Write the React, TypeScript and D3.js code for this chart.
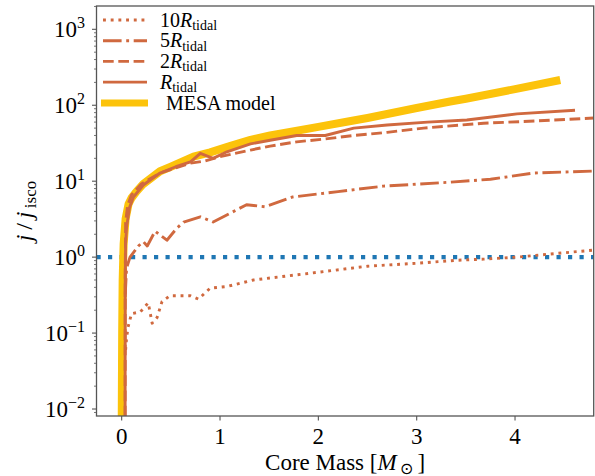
import * as d3 from 'd3';

// core mass (M_sun) and j/j_isco for each run
const tenMass = [0.04, 0.05, 0.065, 0.1, 0.19, 0.27, 0.31, 0.36, 0.41, 0.49, 0.7, 0.78, 0.9, 1.07, 1.34, 1.99, 2.5, 3.0, 3.41, 3.68, 4.02, 4.36, 4.81];
const tenJ = [0.06, 0.086, 0.12, 0.18, 0.19, 0.25, 0.135, 0.16, 0.26, 0.31, 0.31, 0.28, 0.39, 0.41, 0.5, 0.63, 0.76, 0.83, 0.91, 0.94, 1.0, 1.1, 1.24];

const fiveMass = [0.035, 0.05, 0.085, 0.17, 0.22, 0.26, 0.34, 0.46, 0.56, 0.63, 0.8, 0.93, 1.27, 1.46, 1.74, 2.2, 2.66, 3.34, 3.75, 4.19, 4.81];
const fiveJ = [0.3, 0.72, 1.0, 1.4, 1.6, 1.4, 2.2, 1.67, 2.4, 2.9, 3.4, 2.9, 4.9, 4.6, 6.2, 7.3, 8.6, 9.7, 10.6, 12.8, 13.6];

const twoMass = [0.035, 0.036, 0.04, 0.06, 0.1, 0.2, 0.39, 0.55, 0.7, 0.85, 1.0, 1.31, 1.51, 1.78, 2.07, 2.36, 2.7, 3.07, 3.68, 4.2, 4.81];
const twoJ = [0.005, 0.5, 2.8, 4.8, 6.6, 9.2, 12.8, 15, 17.3, 18.5, 21, 25.7, 29, 33, 36, 40, 44, 50, 58, 62, 68];

const oneMass = [0.035, 0.036, 0.04, 0.05, 0.08, 0.12, 0.22, 0.39, 0.55, 0.7, 0.8, 0.93, 1.07, 1.31, 1.51, 1.78, 2.07, 2.36, 2.7, 3.11, 3.51, 4.02, 4.61];
const oneJ = [0.005, 0.5, 1.5, 2.5, 4.5, 6.2, 8.9, 12.8, 15.5, 18, 23.3, 20, 24.4, 31, 34.6, 40, 40, 50, 55, 60, 64, 77, 86];

const mesaMass = [0.0, 0.005, 0.01, 0.02, 0.04, 0.07, 0.1, 0.15, 0.22, 0.3, 0.39, 0.5, 0.73, 0.9, 1.1, 1.31, 1.51, 2.0, 2.33, 2.5, 3.0, 3.34, 3.5, 4.0, 4.46];
const mesaJ = [0.005, 0.1, 0.5, 1.5, 3.2, 5, 6, 7.3, 9.2, 11, 13.5, 15.5, 21, 24, 29, 35, 40, 52, 62, 68, 92, 112, 122, 163, 215];

const xTicks = [0, 1, 2, 3, 4];
const yExps = [-2, -1, 0, 1, 2, 3];

const brown = '#d0693f';
const gold = '#fcc30b';
const blue = '#1f77b4';
const serif = '"Liberation Serif", "Times New Roman", serif';

const left = 96.5;
const right = 593.7;
const top = 6;
const bottom = 416;

export default function App() {
  const x = d3.scaleLinear().domain([-0.256, 4.8]).range([left, right]);
  const y = d3.scaleLog().domain([Math.pow(10, -2.092), Math.pow(10, 3.307)]).range([bottom, top]);

  const path = (xs: number[], ys: number[]) =>
    d3.line<number>().x((d, i) => x(xs[i])).y(d => y(d))(ys) || '';

  const minor: number[] = [];
  for (let e = -3; e <= 3; e++) {
    for (let k = 2; k <= 9; k++) {
      const v = k * Math.pow(10, e);
      if (y(v) <= bottom && y(v) >= top) minor.push(v);
    }
  }

  const series = [
    { label: '10', d: path(tenMass, tenJ), dash: '2.9 4.8' },
    { label: '5', d: path(fiveMass, fiveJ), dash: '18.6 4.6 2.9 4.6' },
    { label: '2', d: path(twoMass, twoJ), dash: '10.7 4.6' },
    { label: '', d: path(oneMass, oneJ), dash: '' },
  ];

  return (
    <svg width={595} height={476} style={{ position: 'absolute', left: 0, top: 0, background: '#fff' }} fontFamily={serif}>
      <defs>
        <clipPath id="plot">
          <rect x={left} y={top} width={right - left} height={bottom - top} />
        </clipPath>
      </defs>

      <g clipPath="url(#plot)" fill="none">
        <line x1={left} x2={right} y1={y(1)} y2={y(1)} stroke={blue} strokeWidth={4.2} strokeDasharray="4.2 7.3" />
        <path d={path(mesaMass, mesaJ)} stroke={gold} strokeWidth={8} strokeLinejoin="round" />
        {series.map(s => (
          <path key={s.label} d={s.d} stroke={brown} strokeWidth={2.9} strokeDasharray={s.dash || undefined} strokeLinejoin="round" />
        ))}
      </g>

      {/* spines */}
      <rect x={left} y={top} width={right - left} height={bottom - top} fill="none" stroke="#555" strokeWidth={1.3} />

      {/* y ticks */}
      {yExps.map(e => (
        <g key={e}>
          <line x1={left - 4.5} x2={left} y1={y(Math.pow(10, e))} y2={y(Math.pow(10, e))} stroke="#555" strokeWidth={1.1} />
          <text x={85} y={y(Math.pow(10, e)) + 8} textAnchor="end" fontSize={23} fill="#000">
            10<tspan fontSize={16} dy={-9}>{e < 0 ? '\u2212' + Math.abs(e) : e}</tspan>
          </text>
        </g>
      ))}
      {minor.map(v => (
        <line key={v} x1={left - 2.5} x2={left} y1={y(v)} y2={y(v)} stroke="#555" strokeWidth={0.8} />
      ))}

      {/* x ticks */}
      {xTicks.map(t => (
        <g key={t}>
          <line x1={x(t)} x2={x(t)} y1={bottom} y2={bottom + 4.5} stroke="#555" strokeWidth={1.1} />
          <text x={x(t)} y={444} textAnchor="middle" fontSize={23} fill="#000">{t}</text>
        </g>
      ))}

      {/* axis labels */}
      <text x={(left + right) / 2} y={470} textAnchor="middle" fontSize={23} fill="#000">
        Core Mass [<tspan fontStyle="italic">M</tspan><tspan fontSize={16} dy={4}>{'\u2009\u2299'}</tspan><tspan dy={-4}>{'\u2009]'}</tspan>
      </text>
      <text transform={`translate(32,${(top + bottom) / 2}) rotate(-90)`} textAnchor="middle" fontSize={24} fill="#000">
        <tspan fontStyle="italic">j</tspan>{'\u2009/\u2009'}<tspan fontStyle="italic">j</tspan><tspan fontSize={17} dy={4}>{'\u2009isco'}</tspan>
      </text>

      {/* legend */}
      {series.map((s, i) => {
        const ly = 20 + i * 20.7;
        return (
          <g key={'lg' + s.label}>
            <line x1={103} x2={147} y1={ly} y2={ly} stroke={brown} strokeWidth={2.9} strokeDasharray={s.dash || undefined} />
            <text x={160} y={ly + 6.5} fontSize={20} fill="#000">
              {s.label}<tspan fontStyle="italic">R</tspan><tspan fontSize={14} dy={3.5}>tidal</tspan>
            </text>
          </g>
        );
      })}
      <line x1={101} x2={148} y1={103} y2={103} stroke={gold} strokeWidth={7} />
      <text x={166} y={109.5} fontSize={20} fill="#000">MESA model</text>
    </svg>
  );
}
